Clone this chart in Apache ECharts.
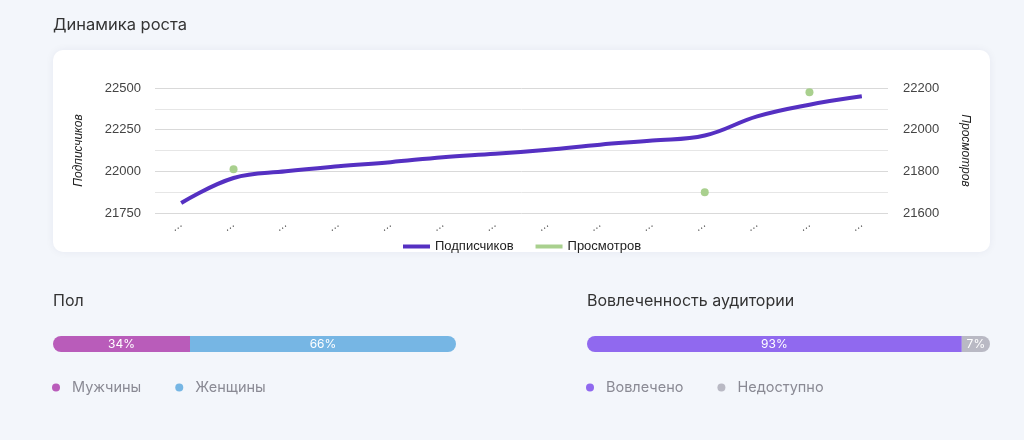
<!DOCTYPE html>
<html lang="ru">
<head>
<meta charset="utf-8">
<title>Динамика роста</title>
<script src="https://cdn.jsdelivr.net/npm/echarts@6/dist/echarts.min.js"></script>
<style>
  html, body { margin: 0; padding: 0; background: #f3f6fb; }
  #page { width: 1024px; height: 440px; }
</style>
</head>
<body>
<div id="page"></div>
<script>
/* =========================================
   1. DATA
   ========================================= */
const categories = ["…", "…", "…", "…", "…", "…", "…", "…", "…", "…", "…", "…", "…", "…"];
const subscribers = [21810, 21960, 22000, 22030, 22055, 22085, 22105, 22130, 22160, 22185, 22215, 22330, 22400, 22450];
const views = [null, 21810, null, null, null, null, null, null, null, null, 21700, null, 22180, null];

const genderNames = ["Мужчины", "Женщины"];
const genderValues = [34, 66];

const engageNames = ["Вовлечено", "Недоступно"];
const engageValues = [93, 7];

/* =========================================
   2. CHART
   ========================================= */
const UI_FONT = "Inter";
const AXIS_FONT = "Liberation Sans";

// bar grids are 1 and 2; their category y axes sit after the two line axes
function barSeries(name, value, color, gridIdx, radius) {
  return {
    name: name,
    type: "bar",
    stack: "s" + gridIdx,
    xAxisIndex: gridIdx,
    yAxisIndex: gridIdx + 1,
    barWidth: 16,
    data: [value],
    itemStyle: { color: color, borderRadius: radius },
    label: {
      show: true,
      position: "inside",
      formatter: "{c}%",
      color: "#fff",
      fontFamily: UI_FONT,
      fontSize: 12,
    },
  };
}

function barLegend(names, left) {
  return {
    data: names,
    left: left,
    top: 380,
    padding: 0,
    icon: "circle",
    itemWidth: 8,
    itemHeight: 8,
    itemGap: 34,
    textStyle: { color: "#8a8a94", fontFamily: UI_FONT, fontSize: 14.5, padding: [0, 0, 0, 7] },
  };
}

function initChart() {
  const chart = echarts.init(document.getElementById("page"), null, { renderer: "canvas" });

  const plainNumber = (v) => String(v);

  const option = {
    backgroundColor: "#f3f6fb",
    animation: false,
    graphic: [
      {
        type: "rect",
        z: -10,
        silent: true,
        shape: { x: 53, y: 50, width: 937, height: 202, r: 10 },
        style: { fill: "#ffffff", shadowBlur: 8, shadowColor: "rgba(30,40,80,0.06)" },
      },
      { type: "text", left: 53, top: 17, style: { text: "Динамика роста", fill: "#333", font: "16.5px " + UI_FONT } },
      { type: "text", left: 53, top: 293, style: { text: "Пол", fill: "#333", font: "16px " + UI_FONT } },
      { type: "text", left: 587, top: 293, style: { text: "Вовлеченность аудитории", fill: "#333", font: "16px " + UI_FONT } },
    ],
    legend: [
      {
        // centred under the plot area, not the whole page
        data: ["Подписчиков", "Просмотров"],
        left: 398,
        top: 235,
        icon: "rect",
        itemWidth: 27,
        itemHeight: 4,
        itemGap: 22,
        textStyle: { color: "#222", fontFamily: AXIS_FONT, fontSize: 13 },
      },
      barLegend(genderNames, 52),
      barLegend(engageNames, 586),
    ],
    grid: [
      { left: 155, right: 136, top: 88, height: 125 },
      { left: 53, width: 403, top: 336, height: 16 },
      { left: 587, width: 403, top: 336, height: 16 },
    ],
    xAxis: [
      {
        type: "category",
        gridIndex: 0,
        data: categories,
        boundaryGap: true,
        axisLine: { show: false },
        axisTick: { show: false },
        axisLabel: { color: "#444", fontSize: 11, rotate: 35, margin: 10 },
      },
      { type: "value", gridIndex: 1, min: 0, max: 100, show: false },
      { type: "value", gridIndex: 2, min: 0, max: 100, show: false },
    ],
    yAxis: [
      {
        type: "value",
        gridIndex: 0,
        position: "left",
        min: 21750,
        max: 22500,
        interval: 250,
        name: "Подписчиков",
        nameLocation: "middle",
        nameGap: 70,
        nameTextStyle: { fontStyle: "italic", fontFamily: AXIS_FONT, fontSize: 12, color: "#222" },
        axisLabel: { color: "#444", fontFamily: AXIS_FONT, fontSize: 13, margin: 14, formatter: plainNumber },
        splitLine: { lineStyle: { color: "#d9d9d9" } },
        minorTick: { show: false, splitNumber: 2 },
        minorSplitLine: { show: true, lineStyle: { color: "#e6e6e6" } },
      },
      {
        type: "value",
        gridIndex: 0,
        position: "right",
        min: 21600,
        max: 22200,
        interval: 200,
        name: "Просмотров",
        nameLocation: "middle",
        nameRotate: -90,
        nameGap: 71,
        nameTextStyle: { fontStyle: "italic", fontFamily: AXIS_FONT, fontSize: 12, color: "#222" },
        axisLabel: { color: "#444", fontFamily: AXIS_FONT, fontSize: 13, margin: 15, formatter: plainNumber },
        splitLine: { show: false },
      },
      { type: "category", gridIndex: 1, data: ["Пол"], show: false },
      { type: "category", gridIndex: 2, data: ["Вовлеченность"], show: false },
    ],
    series: [
      {
        name: "Подписчиков",
        type: "line",
        xAxisIndex: 0,
        yAxisIndex: 0,
        data: subscribers,
        smooth: 0.4,
        showSymbol: false,
        lineStyle: { color: "#5530c2", width: 4 },
        itemStyle: { color: "#5530c2" },
      },
      {
        name: "Просмотров",
        type: "line",
        xAxisIndex: 0,
        yAxisIndex: 1,
        data: views,
        symbol: "circle",
        symbolSize: 8,
        showSymbol: true,
        lineStyle: { color: "#a9d08e", width: 4 },
        itemStyle: { color: "#a9d08e" },
      },
      barSeries(genderNames[0], genderValues[0], "#b95cba", 1, [8, 0, 0, 8]),
      barSeries(genderNames[1], genderValues[1], "#76b6e4", 1, [0, 8, 8, 0]),
      barSeries(engageNames[0], engageValues[0], "#9069ef", 2, [8, 0, 0, 8]),
      barSeries(engageNames[1], engageValues[1], "#b9b9c4", 2, [0, 8, 8, 0]),
    ],
  };

  chart.setOption(option);
  window.addEventListener("resize", () => chart.resize());
}

/* =========================================
   3. MAIN
   ========================================= */
document.addEventListener("DOMContentLoaded", () => {
  initChart();
});
</script>
</body>
</html>
